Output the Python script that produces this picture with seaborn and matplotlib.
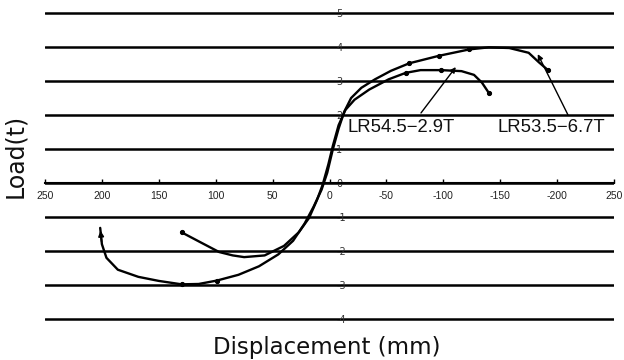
import matplotlib
matplotlib.use("Agg")
import matplotlib.pyplot as plt
import numpy as np
import pandas as pd
import seaborn as sns

# Load-displacement curves of the two specimens
disp_53 = [201.5, 200, 196, 186, 168, 150, 130, 115, 99, 80, 62, 45, 32, 22, 14, 7, 2,
           -3, -8, -13, -19, -28, -40, -54, -70, -96, -123, -140, -158, -175, -184, -192]
load_53 = [-1.32, -1.8, -2.2, -2.55, -2.76, -2.88, -2.98, -2.97, -2.87, -2.7, -2.45, -2.1,
           -1.7, -1.2, -0.7, -0.2, 0.3, 1.0, 1.6, 2.1, 2.5, 2.8, 3.05, 3.3, 3.52, 3.74,
           3.93, 3.99, 3.97, 3.83, 3.55, 3.32]
marks_53 = [6, 8, 24, 25, 26, 31]

disp_54 = [130, 113, 97, 85, 75, 57, 40, 27, 18, 11, 6, 1, -3, -8, -14, -22, -35, -52,
           -67, -80, -98, -116, -127, -134, -140]
load_54 = [-1.45, -1.75, -2.03, -2.13, -2.18, -2.13, -1.85, -1.45, -1.03, -0.5, -0.05,
           0.55, 1.1, 1.7, 2.15, 2.45, 2.75, 3.05, 3.24, 3.32, 3.32, 3.29, 3.18, 2.95, 2.65]
marks_54 = [0, 18, 20, 24]

x_ticks = [250, 200, 150, 100, 50, 0, -50, -100, -150, -200, -250]
x_tick_labels = ["250", "200", "150", "100", "50", "0", "-50", "-100", "-150", "-200", "250"]
y_ticks = [5, 4, 3, 2, 1, 0, -1, -2, -3, -4]

name_53 = "LR53.5\u22126.7T"
name_54 = "LR54.5\u22122.9T"

sns.set_theme(style="white")
plt.rcParams["font.family"] = ["DejaVu Sans"]

fig = plt.figure(figsize=(6.24, 3.60), dpi=100)
ax = fig.add_axes([45 / 624, 1 - 336 / 360, 569 / 624, (336 - 2.8) / 360])

df53 = pd.DataFrame({"disp": disp_53, "load": load_53})
df54 = pd.DataFrame({"disp": disp_54, "load": load_54})

line_kw = dict(sort=False, estimator=None, ax=ax, color="black", lw=1.7, marker="o",
               markersize=3, markerfacecolor="black", markeredgecolor="black")
sns.lineplot(data=df53, x="disp", y="load", markevery=marks_53, **line_kw)
sns.lineplot(data=df54, x="disp", y="load", markevery=marks_54, **line_kw)

# arrowhead at the start of the larger loop
ax.annotate("", xy=(disp_53[0], load_53[0]), xytext=(disp_53[1], load_53[1]),
            arrowprops=dict(arrowstyle="-|>", color="black", lw=1.2, mutation_scale=8))

# leader lines to the curve labels
ax.annotate("", xy=(-111, 3.41), xytext=(-80.4, 2.06),
            arrowprops=dict(arrowstyle="-|>", color="black", lw=1.0, mutation_scale=8,
                            shrinkA=0, shrinkB=0))
ax.annotate("", xy=(-183, 3.79), xytext=(-209.6, 2.0),
            arrowprops=dict(arrowstyle="-|>", color="black", lw=1.0, mutation_scale=8,
                            shrinkA=0, shrinkB=0))
ax.text(-15.4, 1.62, name_54, ha="left", va="center", fontsize=13.3,
        family="Liberation Sans", color="#111111")
ax.text(-148, 1.62, name_53, ha="left", va="center", fontsize=13.3,
        family="Liberation Sans", color="#111111")

ax.set_xlim(250, -250)
ax.set_ylim(-4.5, 5.3)

# horizontal grid, y labels beside x = 0, x axis through zero
ax.yaxis.tick_right()
ax.set_yticks(y_ticks)
ax.set_yticklabels([str(v) for v in y_ticks])
ax.tick_params(axis="y", right=False, left=False, length=0, pad=5,
               labelsize=7, labelcolor="#333333")
for lab in ax.get_yticklabels():
    lab.set_family("Liberation Sans")
ax.spines["right"].set_position(("data", 0))
ax.spines["right"].set_visible(False)
ax.spines["left"].set_visible(False)
ax.spines["top"].set_visible(False)
ax.spines["bottom"].set_position(("data", 0))
ax.spines["bottom"].set_color("black")
ax.spines["bottom"].set_linewidth(1.5)
ax.grid(axis="y", color="black", lw=1.8)
ax.grid(axis="x", visible=False)

ax.set_xticks(x_ticks)
ax.set_xticklabels(x_tick_labels, fontsize=7.5, family="Liberation Sans", color="#222222")
ax.tick_params(axis="x", bottom=True, direction="in", length=3, width=1, color="black", pad=6)

ax.set_xlabel("Displacement (mm)", fontsize=16.5, color="#111111")
ax.set_ylabel("Load(t)", fontsize=17, color="#111111")
ax.yaxis.set_label_position("left")
ax.xaxis.set_label_coords(0.495, 0.0)
ax.yaxis.set_label_coords(-0.032, 0.54)

fig.savefig("out.png", dpi=100)
